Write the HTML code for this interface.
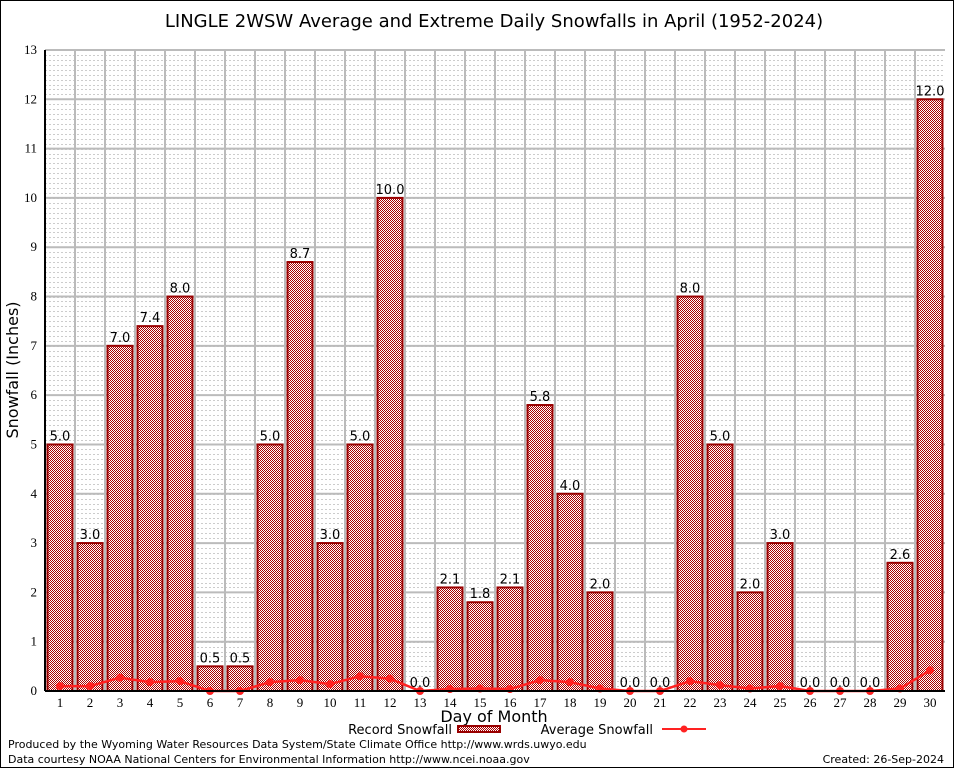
<!DOCTYPE html>
<html><head><meta charset="utf-8"><style>
body{margin:0;background:#fff}
</style></head><body>
<svg id="c" width="954" height="768" xmlns="http://www.w3.org/2000/svg" font-family="DejaVu Sans, Liberation Sans, sans-serif">
<defs>
<pattern id="chk" width="2" height="2" patternUnits="userSpaceOnUse">
<rect width="2" height="2" fill="#fff" shape-rendering="crispEdges"/><rect width="1" height="1" fill="#a00" shape-rendering="crispEdges"/><rect x="1" y="1" width="1" height="1" fill="#a00" shape-rendering="crispEdges"/>
</pattern>
</defs>
<rect x="0.5" y="0.5" width="953" height="767" fill="#fff" stroke="#000"/>
<text x="494" y="27" font-size="18" text-anchor="middle">LINGLE 2WSW Average and Extreme Daily Snowfalls in April (1952-2024)</text>
<g id="grid"></g>
<g id="bars"></g>
<g id="avg"></g>
<g id="axes"></g>
<text x="18" y="370" font-size="16" text-anchor="middle" transform="rotate(-90 18 370)">Snowfall (Inches)</text>
<text x="494" y="722" font-size="16" text-anchor="middle">Day of Month</text>
<g>
<text x="452" y="734" font-size="13" text-anchor="end">Record Snowfall</text>
<rect x="458" y="726" width="42" height="6" fill="url(#chk)" stroke="#900" stroke-width="2"/>
<text x="653" y="734" font-size="13" text-anchor="end">Average Snowfall</text>
<line x1="662" y1="729" x2="706" y2="729" stroke="#f22" stroke-width="2"/>
<circle cx="684" cy="729" r="3.5" fill="#f22"/>
</g>
<text x="8" y="748" font-size="11">Produced by the Wyoming Water Resources Data System/State Climate Office http://www.wrds.uwyo.edu</text>
<text x="8" y="763" font-size="11">Data courtesy NOAA National Centers for Environmental Information http://www.ncei.noaa.gov</text>
<text x="944" y="763" font-size="11" text-anchor="end">Created: 26-Sep-2024</text>
</svg>
<script>
const days=[1,2,3,4,5,6,7,8,9,10,11,12,13,14,15,16,17,18,19,20,21,22,23,24,25,26,27,28,29,30];
const recordValues=[5.0,3.0,7.0,7.4,8.0,0.5,0.5,5.0,8.7,3.0,5.0,10.0,0.0,2.1,1.8,2.1,5.8,4.0,2.0,0.0,0.0,8.0,5.0,2.0,3.0,0.0,0.0,0.0,2.6,12.0];
const averageValues=[0.1,0.1,0.27,0.18,0.2,0,0,0.18,0.22,0.14,0.3,0.25,0,0.04,0.05,0.04,0.22,0.18,0.05,0,0,0.2,0.12,0.05,0.1,0,0,0,0.05,0.42];
const yTicks=[0,1,2,3,4,5,6,7,8,9,10,11,12,13];
const L=45,R=945,T=50,B=691,yMax=13;
const NS='http://www.w3.org/2000/svg';
const xC=i=>L+(R-L)/days.length*(i+0.5);
const y=v=>B-(B-T)*v/yMax;
function mk(p,tag,a){const e=document.createElementNS(NS,tag);for(const k in a)e.setAttribute(k,a[k]);document.getElementById(p).appendChild(e);return e;}
for(let v=0;v<yMax;v+=0.1){const yy=Math.round(y(v))+0.5;
const g=mk('grid','line',{x1:L,x2:R,y1:yy,y2:yy,stroke:'#ccc','stroke-dasharray':'2,2'});

}
yTicks.forEach(v=>{const yy=y(v);
const g=mk('grid','line',{x1:L,x2:R,y1:yy,y2:yy,stroke:'#bbb','stroke-width':2});


const t=mk('axes','text',{x:L-8,y:yy+4,'font-size':13,'text-anchor':'end','font-family':'Liberation Serif, serif'});t.textContent=v;

});
for(let i=1;i<days.length;i++){const xx=L+(R-L)/days.length*i;
const g=mk('grid','line',{x1:xx,x2:xx,y1:T,y2:B,stroke:'#bbb','stroke-width':2});

}
const bw=25;
days.forEach((d,i)=>{const v=recordValues[i],cx=xC(i);
if(v>0){const r=mk('bars','rect',{x:cx-bw/2,y:y(v),width:bw,height:B-y(v),fill:'url(#chk)',stroke:'#900','stroke-width':2});

}
const t=mk('bars','text',{x:cx,y:y(v)-4,'font-size':13,'text-anchor':'middle'});t.textContent=v.toFixed(1);


const lt=mk('axes','text',{x:cx,y:B+16,'font-size':13,'text-anchor':'middle','font-family':'Liberation Serif, serif'});lt.textContent=d;

});
let dPath='';averageValues.forEach((v,i)=>{dPath+=(i?'L':'M')+xC(i)+','+y(v);});
const pl=mk('avg','path',{d:dPath,fill:'none',stroke:'#f22','stroke-width':2.5});


averageValues.forEach((v,i)=>{const c=mk('avg','circle',{cx:xC(i),cy:y(v),r:4,fill:'#f22'});

});
const yl=mk('axes','line',{x1:L,x2:L,y1:T,y2:B,stroke:'#000','stroke-width':2});


const xl=mk('axes','line',{x1:L,x2:R,y1:B,y2:B,stroke:'#000','stroke-width':2});


</script>
</body></html>
